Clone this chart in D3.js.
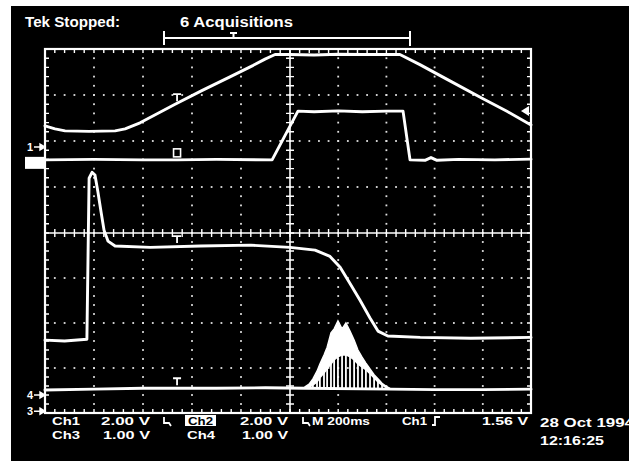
<!DOCTYPE html>
<html>
<head>
<meta charset="utf-8">
<script src="https://cdn.jsdelivr.net/npm/d3@7"></script>
<style>
  html, body { margin: 0; padding: 0; background: #fff; }
  svg { display: block; }
  text { font-family: "Liberation Sans", Arial, sans-serif; font-weight: bold; fill: #fff; }
</style>
</head>
<body>
<script>
// ---- Acquisition settings ----
const channelNames = ["Ch1", "Ch2", "Ch3", "Ch4"];
const voltsPerDiv = [2.00, 2.00, 1.00, 1.00];
const groundDiv = [1.87, 1.59, -3.96, -3.60];   // ground reference of each channel, in divisions from centre
const msPerDiv = 200;
const triggerLevel = 1.56;                        // Ch1, rising edge
const triggerTime = 539;                          // ms from left edge of screen

// ---- Waveforms (time in ms from left edge, amplitude in volts) ----
const ch1Time  = [0, 41, 82, 180, 286, 327, 388, 450, 531, 640, 755, 850, 898, 939, 1000, 1100, 1200, 1300, 1456, 1539, 1650, 1801, 1900, 2000];
const ch1Volts = [0.92, 0.79, 0.70, 0.68, 0.70, 0.79, 1.05, 1.40, 1.86, 2.45, 3.05, 3.55, 3.82, 4.02, 4.02, 4.00, 4.03, 4.02, 4.02, 3.58, 2.95, 2.10, 1.55, 0.96];

const ch2Time  = [0, 200, 400, 539, 700, 927, 1033, 1100, 1200, 1300, 1400, 1469, 1498, 1560, 1585, 1610, 1700, 1850, 2000];
const ch2Volts = [0, 0.02, 0, 0, 0.02, 0, 2.12, 2.09, 2.13, 2.09, 2.12, 2.12, 0, -0.02, 0.10, -0.02, 0.02, 0, 0.03];

const ch3Time  = [0, 80, 171, 180, 192, 204, 216, 229, 241, 257, 286, 430, 635, 840, 1000, 1104, 1166, 1208, 1249, 1290, 1332, 1365, 1406, 1540, 1750, 2000];
const ch3Volts = [1.58, 1.56, 1.60, 5.15, 5.28, 5.22, 4.85, 4.41, 4.02, 3.78, 3.67, 3.64, 3.67, 3.69, 3.64, 3.58, 3.44, 3.20, 2.84, 2.47, 2.07, 1.78, 1.67, 1.64, 1.62, 1.64];

const ch4Time  = [0, 200, 400, 539, 700, 900, 1062, 1415, 1600, 1800, 2000];
const ch4Volts = [0.11, 0.13, 0.15, 0.15, 0.15, 0.16, 0.15, 0.13, 0.12, 0.12, 0.13];

// Ch4 burst: time of each ringing cycle, upper excursion and the level the cycle returns to
const burstTime = [1062, 1079, 1095, 1112, 1124, 1141, 1154, 1170, 1183, 1199, 1216, 1232, 1249, 1266, 1282, 1299, 1315, 1332, 1349, 1365, 1382, 1398, 1415];
const burstTop  = [0.18, 0.24, 0.36, 0.53, 0.69, 0.89, 1.06, 1.38, 1.47, 1.65, 1.47, 1.60, 1.42, 1.22, 1.00, 0.84, 0.71, 0.58, 0.45, 0.36, 0.26, 0.20, 0.15];
const burstMid  = [0.15, 0.17, 0.22, 0.29, 0.38, 0.49, 0.58, 0.69, 0.78, 0.85, 0.89, 0.89, 0.85, 0.78, 0.69, 0.62, 0.56, 0.47, 0.38, 0.29, 0.22, 0.17, 0.15];

// ---- Readouts ----
const headerLabels = ["Tek Stopped:", "6 Acquisitions"];
const scaleLabels = ["2.00 V", "2.00 V", "1.00 V", "1.00 V"];
const timebaseLabel = "M 200ms";
const triggerLabel = "1.56 V";
const dateLabels = ["28 Oct 1994", "12:16:25"];

// ---- Layout ----
const W = 638, H = 461;
const svg = d3.select("body").append("svg").attr("width", W).attr("height", H);

svg.append("rect").attr("width", W).attr("height", H).attr("fill", "#fff");
svg.append("rect").attr("x", 11).attr("y", 6).attr("width", 620).attr("height", H - 6).attr("fill", "#000");

const x = d3.scaleLinear().domain([0, 1000, 2000]).range([45, 290, 531]);
const yDiv = d3.scaleLinear().domain([-4, 0, 4]).range([413, 233, 49]);
const yCh = (ch, v) => yDiv(groundDiv[ch] + v / voltsPerDiv[ch]);

const majorT = d3.range(0, 2001, msPerDiv);
const minorT = d3.range(0, 2001, msPerDiv / 5);
const majorD = d3.range(-4, 4.001, 1);
const minorD = d3.range(-4, 4.001, 0.2);

// ---- Graticule ----
const grat = svg.append("g");
const dots = [];
majorT.filter(t => t !== 0 && t !== 1000 && t !== 2000)
  .forEach(t => minorD.slice(1, -1).forEach(d => dots.push([x(t), yDiv(d)])));
majorD.filter(d => d !== -4 && d !== 0 && d !== 4)
  .forEach(d => minorT.slice(1, -1).forEach(t => dots.push([x(t), yDiv(d)])));
grat.selectAll("rect.dot").data(dots).join("rect").attr("class", "dot")
  .attr("x", d => d[0] - 0.9).attr("y", d => d[1] - 0.9)
  .attr("width", 1.8).attr("height", 1.8).attr("fill", "#e0e0e0");

grat.append("rect").attr("x", x(0)).attr("y", yDiv(4))
  .attr("width", x(2000) - x(0)).attr("height", yDiv(-4) - yDiv(4))
  .attr("fill", "none").attr("stroke", "#fff").attr("stroke-width", 2.2);
grat.append("line").attr("x1", x(1000)).attr("x2", x(1000)).attr("y1", yDiv(4)).attr("y2", yDiv(-4))
  .attr("stroke", "#fff").attr("stroke-width", 1.6);
grat.append("line").attr("x1", x(0)).attr("x2", x(2000)).attr("y1", yDiv(0)).attr("y2", yDiv(0))
  .attr("stroke", "#fff").attr("stroke-width", 1.6);

let tickPath = "";
minorT.slice(1, -1).forEach(t => {
  const px = x(t);
  tickPath += `M${px},${yDiv(4)}v4M${px},${yDiv(-4)}v-4M${px},${yDiv(0) - 4}v8`;
});
minorD.slice(1, -1).forEach(d => {
  const py = yDiv(d);
  tickPath += `M${x(0)},${py}h4M${x(2000)},${py}h-4M${x(1000) - 4},${py}h8`;
});
grat.append("path").attr("d", tickPath).attr("stroke", "#fff").attr("stroke-width", 1.4).attr("fill", "none");

// ---- Traces ----
const traces = svg.append("g").attr("fill", "none").attr("stroke", "#fff")
  .attr("stroke-width", 2.9).attr("stroke-linejoin", "round").attr("stroke-linecap", "round");
const series = [[ch1Time, ch1Volts], [ch2Time, ch2Volts], [ch3Time, ch3Volts], [ch4Time, ch4Volts]];
series.forEach(([ts, vs], ch) => {
  const line = d3.line().x(i => x(ts[i])).y(i => yCh(ch, vs[i]));
  traces.append("path").attr("d", line(d3.range(ts.length)));
});

// Ch4 ringing burst
const burstIdx = d3.range(burstTime.length);
svg.append("path")
  .attr("d", d3.area().x(i => x(burstTime[i])).y0(i => yCh(3, burstMid[i])).y1(i => yCh(3, burstTop[i]))(burstIdx))
  .attr("fill", "#fff").attr("stroke", "#fff").attr("stroke-width", 1.4);
svg.append("g").selectAll("line").data(burstIdx).join("line")
  .attr("x1", i => x(burstTime[i])).attr("x2", i => x(burstTime[i]))
  .attr("y1", i => yCh(3, burstMid[i])).attr("y2", i => yCh(3, ch4Volts[6]))
  .attr("stroke", "#fff").attr("stroke-width", 1.8);

// ---- Trigger-point markers on each waveform ----
const markerVolts = [1.86, 0, 3.67, 0.15];
const mx = x(triggerTime);
[0, 2, 3].forEach(ch => {
  const my = yCh(ch, markerVolts[ch]) - 2;
  svg.append("path").attr("d", `M${mx - 4},${my - 8}h8M${mx},${my - 8}v7`)
    .attr("stroke", "#fff").attr("stroke-width", 1.8).attr("fill", "none");
});
svg.append("rect").attr("x", mx - 3.5).attr("y", yCh(1, markerVolts[1]) - 11)
  .attr("width", 7).attr("height", 8).attr("fill", "none").attr("stroke", "#fff").attr("stroke-width", 1.6);

// Trigger level indicator at right edge
const ty = yCh(0, triggerLevel);
svg.append("path").attr("d", `M${x(2000) - 10},${ty}L${x(2000) - 2},${ty - 5}L${x(2000) - 2},${ty + 5}Z`)
  .attr("fill", "#fff");

// Ground markers at left edge
[[0, "1"], [3, "4"], [2, "3"]].forEach(([ch, label]) => {
  const gy = yCh(ch, 0);
  svg.append("text").attr("x", 27).attr("y", gy + 4).attr("font-size", 11).text(label);
  svg.append("path").attr("d", `M34,${gy}H41M40,${gy - 3}L45,${gy}L40,${gy + 3}Z`)
    .attr("stroke", "#fff").attr("stroke-width", 1.4).attr("fill", "#fff");
});
const g2 = yCh(1, 0);
svg.append("rect").attr("x", 25).attr("y", g2 - 3).attr("width", 19).attr("height", 12).attr("fill", "#fff");

// ---- Header: record view bracket ----
svg.append("path").attr("d", "M164,31V45M164,38H410M410,31V46M230,33H237M233.5,33V38")
  .attr("stroke", "#fff").attr("stroke-width", 2).attr("fill", "none");
svg.append("text").attr("x", 25).attr("y", 27).attr("font-size", 14).attr("textLength", 95)
  .attr("lengthAdjust", "spacingAndGlyphs").text(headerLabels[0]);
svg.append("text").attr("x", 180).attr("y", 27).attr("font-size", 14).attr("textLength", 113)
  .attr("lengthAdjust", "spacingAndGlyphs").text(headerLabels[1]);

// ---- Bottom readouts ----
const fs = 11.5;
function label(txt, x0, x1, y, fill, size) {
  svg.append("text").attr("x", x0).attr("y", y).attr("font-size", size || fs)
    .attr("textLength", x1 - x0).attr("lengthAdjust", "spacingAndGlyphs")
    .style("fill", fill || "#fff").text(txt);
}
label(channelNames[0], 52, 80, 425);
label(scaleLabels[0], 101, 150, 425);
svg.append("rect").attr("x", 185).attr("y", 415).attr("width", 31).attr("height", 11).attr("fill", "#fff");
label(channelNames[1], 188, 213, 424.5, "#000");
label(scaleLabels[1], 240, 288, 425);
label(channelNames[2], 52, 80, 438.5);
label(scaleLabels[2], 103, 150, 438.5);
label(channelNames[3], 187, 215, 438.5);
label(scaleLabels[3], 242, 288, 438.5);
label(timebaseLabel, 312, 370, 425);
label(channelNames[0], 402, 427, 425);
label(triggerLabel, 482, 528, 425);

// bandwidth-limit and trigger-slope glyphs
svg.append("path").attr("d", "M164,417V423H169L171,426M303,417V423H308L310,426")
  .attr("stroke", "#fff").attr("stroke-width", 1.8).attr("fill", "none");
svg.append("path").attr("d", "M432,425H435V417H440")
  .attr("stroke", "#fff").attr("stroke-width", 1.8).attr("fill", "none");

label(dateLabels[0], 540, 634, 427, null, 13);
label(dateLabels[1], 540, 604, 445, null, 13);

// right paper margin
svg.append("rect").attr("x", 629).attr("y", 0).attr("width", W - 629).attr("height", H).attr("fill", "#fff");
</script>
</body>
</html>
